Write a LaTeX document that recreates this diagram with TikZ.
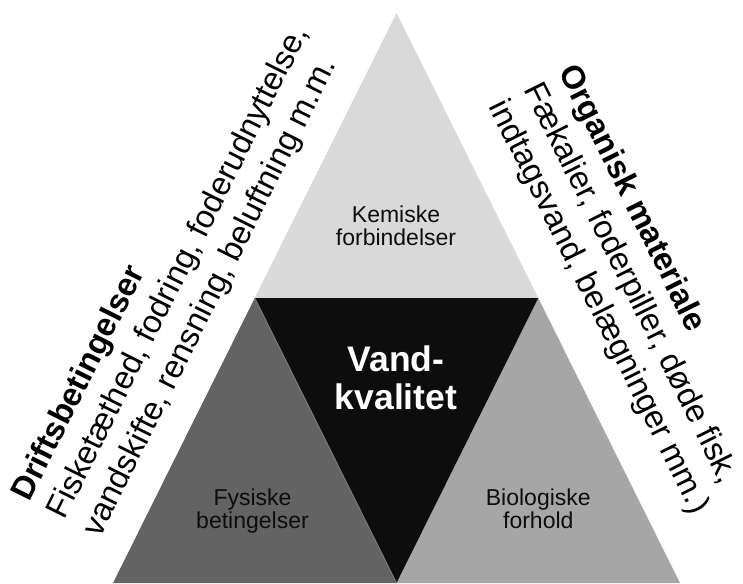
\documentclass[tikz,border=0pt]{standalone}
\usepackage{fontspec}
\setmainfont{Liberation Sans}
\usetikzlibrary{calc}
\definecolor{topgray}{HTML}{D9D9D9}
\definecolor{leftgray}{HTML}{636363}
\definecolor{rightgray}{HTML}{A6A6A6}
\definecolor{centerblack}{HTML}{0D0D0D}
\definecolor{edgehl}{HTML}{7A7A7A}
\definecolor{labeltext}{HTML}{0D0D0D}
\begin{document}
\begin{tikzpicture}[x=1pt,y=-1pt,
  sidetext/.style={inner sep=0pt, anchor=base west, font=\fontsize{32.5}{39}\selectfont},
  sidebold/.style={inner sep=0pt, anchor=base west, font=\fontsize{32.5}{39}\selectfont\bfseries},
  innerlabel/.style={inner sep=0pt, anchor=base, text=labeltext, font=\fontsize{23}{23}\selectfont},
  centerlabel/.style={inner sep=0pt, anchor=base, text=white, font=\fontsize{35.5}{37}\selectfont\bfseries}]
\useasboundingbox (0,0) rectangle (743,583);
\coordinate (A) at (396.5,13);
\coordinate (B) at (113,583);
\coordinate (C) at (680,583);
\coordinate (AB) at ($(A)!0.5!(B)$);
\coordinate (AC) at ($(A)!0.5!(C)$);
\coordinate (BC) at ($(B)!0.5!(C)$);
\fill[topgray] (A) -- (AB) -- (AC) -- cycle;
\fill[leftgray] (AB) -- (B) -- (BC) -- cycle;
\fill[rightgray] (AC) -- (BC) -- (C) -- cycle;
\fill[centerblack] (AB) -- (AC) -- (BC) -- cycle;
\draw[edgehl, line width=1pt] (AB) -- (BC);
% side texts
\node[sidebold, rotate=63.5] (drift1) at (29.5,503.1) {Driftsbetingelser};
\node[sidetext, rotate=63.5] (drift2) at (64.9,520.8) {Fisketæthed, fodring, foderudnyttelse,};
\node[sidetext, rotate=63.5] (drift3) at (100.2,538.4) {vandskifte, rensning, beluftning m.m.};
\node[sidebold, rotate=-63.5] (org1) at (558.3,71.7) {Organisk materiale};
\node[sidetext, rotate=-63.5] (org2) at (523.5,89.2) {Fækalier, foderpiller, døde fisk,};
\node[sidetext, rotate=-63.5] (org3) at (488.6,106.6) {indtagsvand, belægninger mm.)};
% inner labels
\node[innerlabel] (kem1) at (396,222) {Kemiske};
\node[innerlabel] (kem2) at (396,245) {forbindelser};
\node[innerlabel] (fys1) at (252.5,505) {Fysiske};
\node[innerlabel] (fys2) at (252.5,528) {betingelser};
\node[innerlabel] (bio1) at (538.3,505) {Biologiske};
\node[innerlabel] (bio2) at (538.3,528) {forhold};
\node[centerlabel] (vand1) at (396,371.7) {Vand-};
\node[centerlabel] (vand2) at (396,409) {kvalitet};
\end{tikzpicture}
\end{document}
